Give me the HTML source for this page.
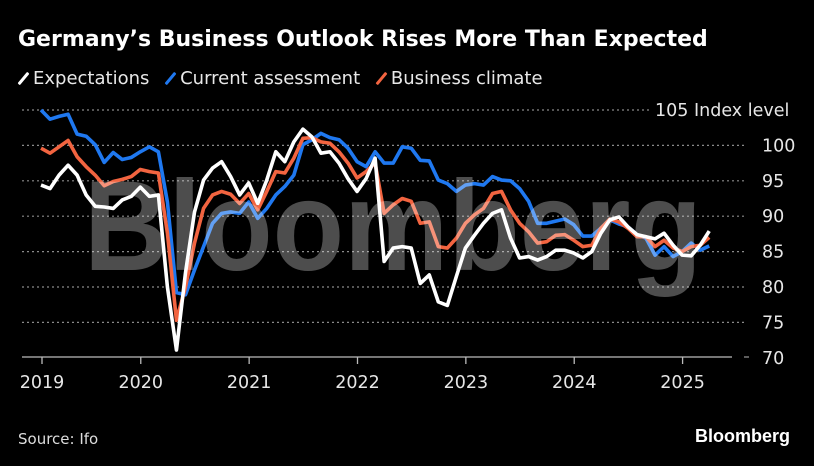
<!DOCTYPE html>
<html><head><meta charset="utf-8">
<style>
body{margin:0;background:#000;width:814px;height:466px;overflow:hidden;font-family:"Liberation Sans","DejaVu Sans",sans-serif;color:#fff}
#t{position:absolute;left:18px;top:27px;font-size:22px;font-weight:bold;font-family:"DejaVu Sans",sans-serif;white-space:nowrap}
#lg{position:absolute;left:18px;top:68px;font-size:18px;color:#e8e8e8;font-family:"DejaVu Sans",sans-serif;white-space:nowrap}
.li{display:inline-block;margin-right:10px}
.sw{display:inline-block;width:3px;height:15px;transform:rotate(40deg);margin:0 8px -2px 4px;border-radius:1px}
#src{position:absolute;left:18px;top:430px;font-size:15px;color:#ddd;font-family:"DejaVu Sans",sans-serif}
#logo{position:absolute;right:24px;top:426px;font-size:18px;font-weight:bold}
svg{position:absolute;left:0;top:0}
</style></head><body>
<div id="t">Germany’s Business Outlook Rises More Than Expected</div>
<div id="lg">
<span class="li"><span class="sw" style="background:#fff"></span>Expectations</span>
<span class="li"><span class="sw" style="background:#1f78f0"></span>Current assessment</span>
<span class="li"><span class="sw" style="background:#f26440"></span>Business climate</span>
</div>
<svg id="chart" width="814" height="466"></svg>
<div id="src">Source: Ifo</div>
<div id="logo">Bloomberg</div>
<script>
const yTicks=[70,75,80,85,90,95,100,105];
const yearLabels=["2019","2020","2021","2022","2023","2024","2025"];
const yearTickMonths=[0.1,11.05,23.05,35.05,47.05,59.05,71.05];
const expectations=[94.4,93.9,95.8,97.2,95.8,93.0,91.4,91.3,91.1,92.3,92.8,94.1,92.8,93.0,80.0,71.1,82.0,90.6,95.1,96.8,97.7,95.6,93.0,94.7,91.8,95.1,99.1,97.7,100.5,102.3,101.2,98.9,99.1,97.5,95.3,93.5,95.3,98.2,83.6,85.5,85.7,85.5,80.5,81.7,77.9,77.4,81.5,85.5,87.3,89.0,90.4,90.9,86.9,84.1,84.3,83.8,84.3,85.2,85.2,84.8,84.1,85.0,87.6,89.5,89.9,88.5,87.4,87.1,86.8,87.6,85.9,84.5,84.4,85.9,87.9];
const currentAssessment=[105.0,103.7,104.1,104.4,101.6,101.3,100.1,97.6,99.0,98.0,98.3,99.1,99.8,99.1,92.0,79.2,78.9,82.4,85.7,89.0,90.4,90.6,90.4,92.0,89.7,91.1,93.0,94.2,95.8,100.1,100.8,101.7,101.1,100.8,99.6,97.7,97.0,99.1,97.5,97.5,99.8,99.6,97.9,97.8,95.1,94.6,93.5,94.4,94.6,94.4,95.6,95.1,95.0,93.9,92.1,89.0,89.0,89.3,89.6,88.8,87.2,87.2,88.3,89.5,88.9,88.5,87.4,86.9,84.5,85.7,84.3,85.0,86.2,85.2,85.8];
const businessClimate=[99.6,98.9,99.8,100.7,98.4,97.0,95.8,94.3,94.9,95.2,95.6,96.6,96.3,96.1,87.6,75.3,80.0,86.2,91.1,93.0,93.5,93.1,91.8,93.2,90.9,93.5,96.3,96.1,98.2,101.0,101.1,100.5,100.3,99.1,97.5,95.4,96.3,97.5,90.4,91.6,92.5,92.1,89.0,89.2,85.7,85.5,86.9,89.0,90.2,91.1,93.2,93.5,90.9,89.0,87.8,86.2,86.4,87.3,87.4,86.6,85.7,85.9,88.3,89.6,89.2,88.3,87.1,87.1,85.7,86.6,85.5,85.0,85.7,85.9,87.0];

const NS="http://www.w3.org/2000/svg";
const svg=document.getElementById('chart');
const X=m=>41+m*9.03;
const Y=v=>110+(105-v)*7.08;
function mk(tag,attrs,parent){const e=document.createElementNS(NS,tag);for(const k in attrs)e.setAttribute(k,attrs[k]);(parent||svg).appendChild(e);return e;}

yTicks.forEach(v=>{
  if(v>70){
    const g=mk('line',{x1:22,x2:v===105?652:747,y1:Y(v),y2:Y(v),stroke:'#8a8a8a','stroke-width':1.2,'stroke-dasharray':'2,3'});
    
    
  }
  const t=mk('text',{x:v===105?655:762,y:Y(v)+6,fill:'#e6e6e6','font-size':17.5,'font-family':'DejaVu Sans, sans-serif'});
  t.textContent=v===105?'105 Index level':String(v);
  
  
});
const base=mk('line',{x1:22,x2:732,y1:357,y2:357,stroke:'#bbb','stroke-width':1.3});


mk('line',{x1:744,x2:749,y1:357,y2:357,stroke:'#999','stroke-width':1.2});
yearLabels.forEach((s,i)=>{
  const x=i===0?42:X(yearTickMonths[i]);
  const tk=mk('line',{x1:x,x2:x,y1:357,y2:364,stroke:'#bbb','stroke-width':1.3});
  
  
  const t=mk('text',{x:x,y:388,fill:'#e6e6e6','font-size':17.5,'text-anchor':'middle','font-family':'DejaVu Sans, sans-serif'});
  t.textContent=s;
  
  
});
function line(arr,color,name){
  const p=mk('polyline',{points:arr.map((v,i)=>X(i)+','+Y(v)).join(' '),fill:'none',stroke:color,'stroke-width':3.6,'stroke-linejoin':'round'});
  
  
}
line(currentAssessment,'#1f78f0','current-assessment-line');
line(businessClimate,'#f26440','business-climate-line');
line(expectations,'#ffffff','expectations-line');
const wm=mk('text',{x:84,y:270,fill:'#ffffff','fill-opacity':0.3,'font-size':128,'font-weight':'bold',textLength:618,lengthAdjust:'spacingAndGlyphs','font-family':'Liberation Sans, sans-serif'});
wm.textContent='Bloomberg';


</script>
</body></html>
